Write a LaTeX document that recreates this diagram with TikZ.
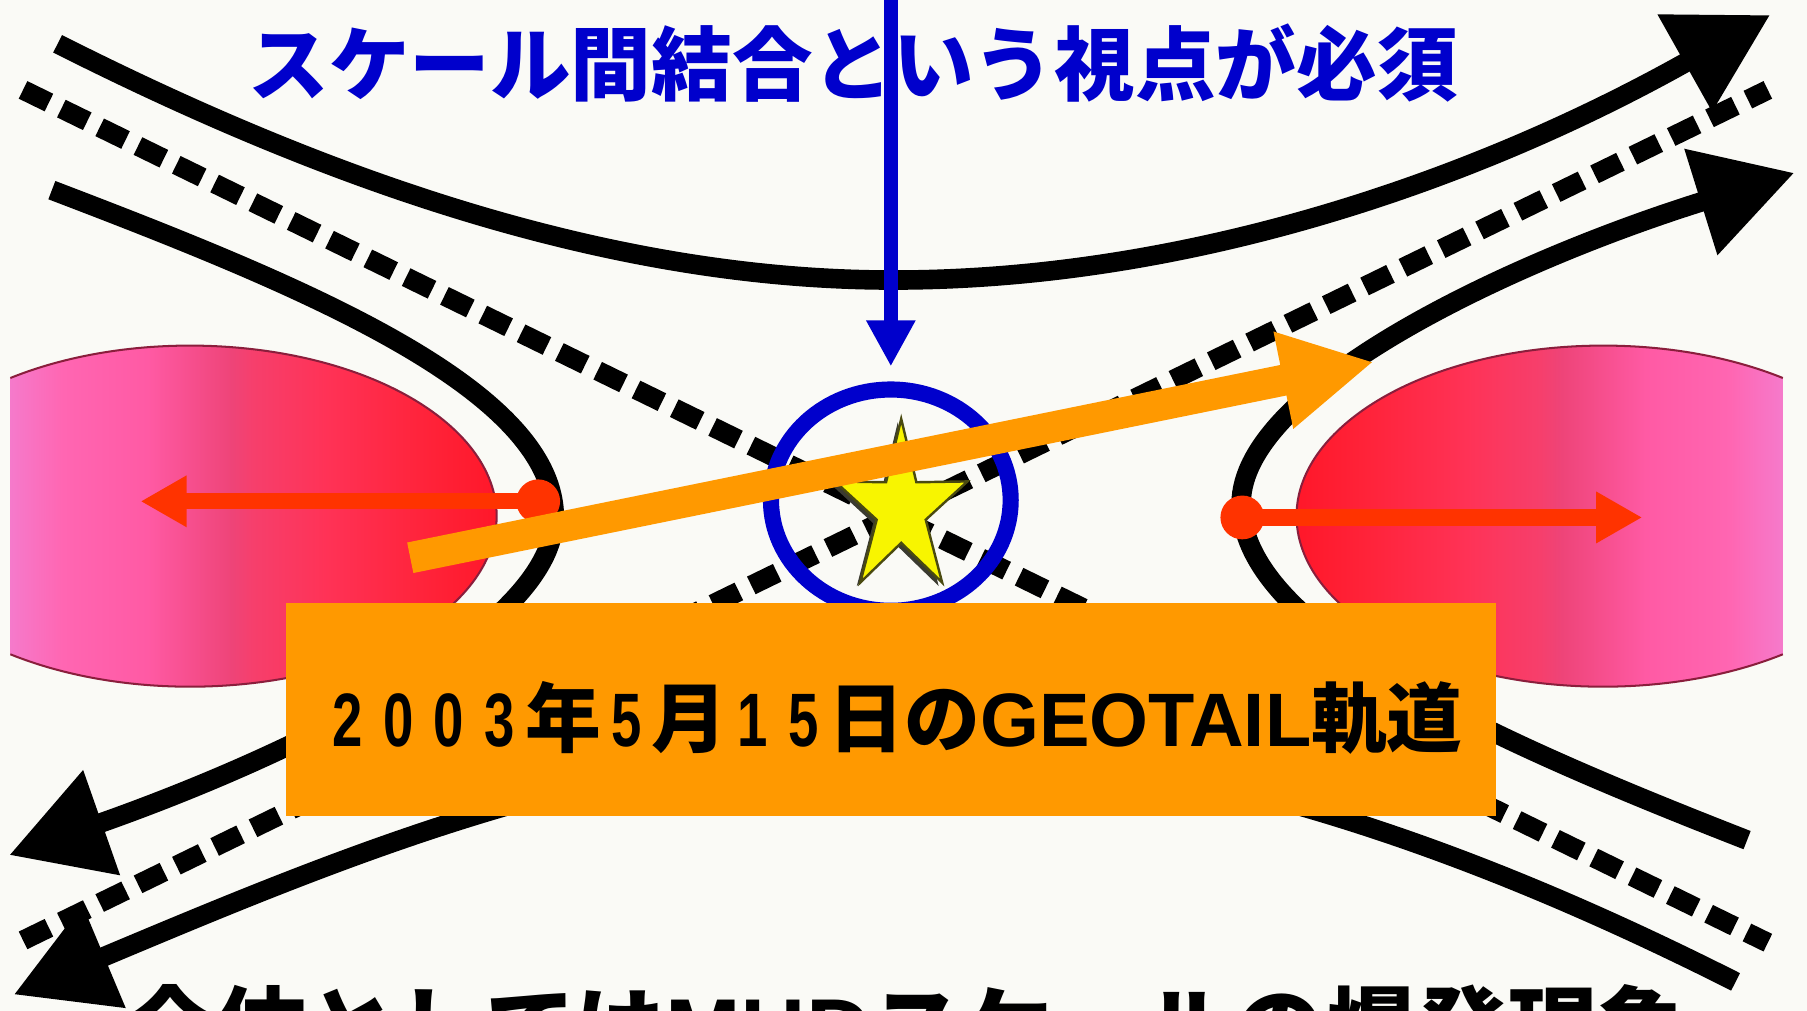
\documentclass[tikz,border=0pt]{standalone}
\usepackage{fontspec}
\usepackage{graphicx}
\usetikzlibrary{arrows.meta,shapes.geometric}
\newfontfamily\jpfont{Noto Sans CJK JP Black}
\newfontfamily\latinfont{Liberation Sans}
\definecolor{XBlue}{HTML}{0000CC}
\definecolor{XOrange}{HTML}{FF9900}
\definecolor{XRed}{HTML}{FF3300}
\definecolor{XPaper}{HTML}{FAFAF6}
\definecolor{StarFill}{HTML}{F8F500}
\definecolor{StarLine}{HTML}{4A4A10}
\definecolor{StarShade}{HTML}{3A3A30}
\definecolor{BlobEdge}{HTML}{8A1E3C}
\definecolor{BlobA}{HTML}{F57ACB}
\definecolor{BlobB}{HTML}{FF66B2}
\definecolor{BlobC}{HTML}{FF5AA4}
\definecolor{BlobD}{HTML}{EE4478}
\definecolor{BlobE}{HTML}{F63F6C}
\definecolor{BlobF}{HTML}{FF3256}
\definecolor{BlobG}{HTML}{FF2238}
\definecolor{BlobH}{HTML}{FF1020}
% pink on the outside, red towards the X-line
\pgfdeclarehorizontalshading{leftblob}{100bp}{color(0bp)=(BlobA); color(25bp)=(BlobA);
  color(30bp)=(BlobB); color(38bp)=(BlobC); color(46bp)=(BlobD); color(48bp)=(BlobE);
  color(55bp)=(BlobF); color(65bp)=(BlobG); color(75bp)=(BlobH); color(100bp)=(BlobH)}
\pgfdeclarehorizontalshading{rightblob}{100bp}{color(0bp)=(BlobH); color(25bp)=(BlobH);
  color(35bp)=(BlobG); color(45bp)=(BlobF); color(52bp)=(BlobE); color(54bp)=(BlobD);
  color(62bp)=(BlobC); color(70bp)=(BlobB); color(75bp)=(BlobA); color(100bp)=(BlobA)}
% narrow digits in the orbit label
\newcommand{\dg}[1]{\makebox[4.4mm]{\scalebox{0.72}[1]{\latinfont\bfseries #1}}}

\begin{document}
\begin{tikzpicture}[x=1cm,y=1cm,
  fieldline/.style={line width=1.7mm,line cap=butt},
  fieldtip/.style={-{Triangle[length=8.5mm,width=9.2mm]}},
  sepline/.style={line width=1.7mm,dash pattern=on 2.5mm off 1.2mm},
  redarrow/.style={XRed,line width=1.4mm,-{Triangle[length=4mm,width=4.2mm]}},
  reddot/.style={circle,fill=XRed,minimum size=3.8mm,inner sep=0pt},
  probe/.style={XBlue,line width=1.2mm,-{Triangle[length=4mm,width=4mm]}},
  orbit/.style={XOrange,line width=2.7mm,-{Triangle[length=8mm,width=8mm]}},
  xstarshape/.style={star,star points=5,star point ratio=2.7,minimum size=1.57cm,inner sep=0pt,xscale=0.77}]
\useasboundingbox (0,0) rectangle (15.68,8.77);
\clip (0,0) rectangle (15.68,8.77);
\fill[XPaper] (0,0) rectangle (15.68,8.77);

% plasma sheet on both sides
\shade[shading=leftblob] (0.09,5.49) arc[start angle=125.9,end angle=-125.9,x radius=2.66,y radius=1.48] -- cycle;
\draw[BlobEdge,line width=.5pt] (0.09,5.49) arc[start angle=125.9,end angle=-125.9,x radius=2.66,y radius=1.48];
\shade[shading=rightblob] (15.47,5.49) arc[start angle=54.1,end angle=305.9,x radius=2.66,y radius=1.48] -- cycle;
\draw[BlobEdge,line width=.5pt] (15.47,5.49) arc[start angle=54.1,end angle=305.9,x radius=2.66,y radius=1.48];

% field lines
\draw[fieldline,fieldtip] (0.50,8.39) .. controls (2.70,7.28) and (5.20,6.34) .. (7.75,6.34)
  .. controls (10.30,6.34) and (12.80,7.20) .. (15.36,8.64);
\draw[fieldline,fieldtip] (15.06,0.25) .. controls (12.86,1.36) and (10.36,2.30) .. (7.81,2.30)
  .. controls (5.26,2.30) and (3.00,1.35) .. (0.12,0.14);
\draw[fieldline,fieldtip] (0.45,7.12) .. controls (2.60,6.30) and (4.81,5.40) .. (4.81,4.28)
  .. controls (4.81,3.30) and (2.50,2.20) .. (0.08,1.35);
\draw[fieldline,fieldtip] (15.16,1.48) .. controls (12.96,2.34) and (10.77,3.30) .. (10.77,4.40)
  .. controls (10.77,5.40) and (13.10,6.50) .. (15.57,7.27);

% separatrices
\draw[sepline] (0.20,7.99) -- (15.34,0.59);
\draw[sepline] (0.20,0.61) -- (15.34,7.99);

% X-line
\node[ellipse,draw=XBlue,line width=1.4mm,minimum width=2.08cm,minimum height=1.92cm,inner sep=0pt] (xring) at (7.73,4.43) {};
\node[xstarshape,fill=StarShade] (xshadow) at (7.79,4.32) {};
\node[xstarshape,draw=StarLine,fill=StarFill,line width=.6pt] (xstar) at (7.82,4.35) {};

% outflow jets
\node[reddot] (ldot) at (4.67,4.42) {};
\coordinate (lend) at (1.22,4.42);
\draw[redarrow] (ldot.center) -- (lend);
\node[reddot] (rdot) at (10.78,4.28) {};
\coordinate (rend) at (14.25,4.28);
\draw[redarrow] (rdot.center) -- (rend);

% spacecraft path
\coordinate (orbstart) at (3.56,3.93);
\coordinate (orbend) at (11.92,5.63);
\draw[orbit] (orbstart) -- (orbend);

% pointer from the headline
\coordinate (probetop) at (7.73,8.90);
\draw[probe,shorten >=1.3mm] (probetop) -- (xring.north);
\node[anchor=base west,inner sep=0pt,text=XBlue,font=\jpfont\fontsize{19.9}{24}\selectfont] (headline) at (2.15,7.95) {スケール間結合という視点が必須};

% orbit label
\node[fill=XOrange,minimum width=10.50cm,minimum height=1.85cm,inner sep=0pt] (orbitbox) at (7.73,2.615) {};
\node[anchor=base west,inner sep=0pt,font=\jpfont\fontsize{18.7}{22}\selectfont] (orbitlabel) at (2.79,2.29) {\dg{2}\dg{0}\dg{0}\dg{3}年\dg{5}月\dg{1}\dg{5}日の{\latinfont\bfseries GEOTAIL}軌道};

% summary line, cut by the frame
\node[anchor=base,inner sep=0pt,font=\jpfont\fontsize{22.4}{26}\selectfont] (summary) at (7.87,-0.45) {全体としては{\latinfont\bfseries MHD}スケールの爆発現象};
\end{tikzpicture}
\end{document}
